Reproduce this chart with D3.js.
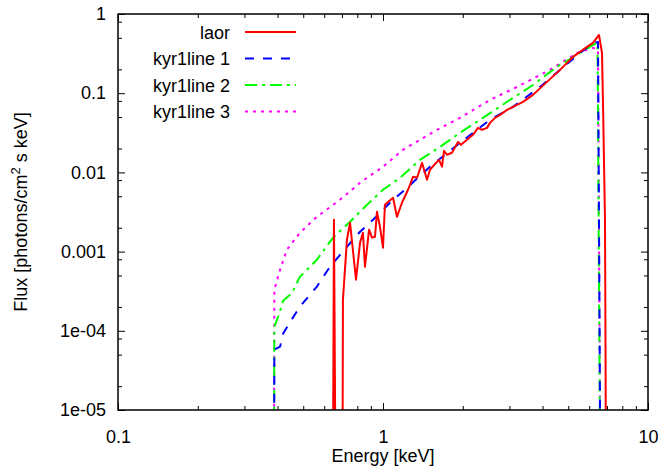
<!DOCTYPE html>
<html>
<head>
<meta charset="utf-8">
<script src="https://cdn.jsdelivr.net/npm/d3@7"></script>
<style>
  body { margin: 0; background: #fff; }
  svg text { font-family: "Liberation Sans", Arial, sans-serif; font-size: 18px; fill: #000; }
</style>
</head>
<body>
<svg id="chart" width="663" height="468"></svg>
<script>
// ── data (energy keV, flux); 0 = no flux (falls off the bottom)
const laor = [
  [0.642, 0], [0.653, 2.52e-3], [0.671, 0], [0.700, 0], [0.706, 2.47e-4],
  [0.731, 1.41e-3], [0.751, 2.31e-3], [0.791, 4.42e-4], [0.819, 1.29e-3], [0.840, 1.73e-3],
  [0.855, 6.45e-4], [0.886, 1.89e-3], [0.909, 1.50e-3], [0.933, 1.54e-3], [0.949, 3.19e-3],
  [0.974, 2.06e-3], [1.000, 1.12e-3], [1.017, 3.90e-3], [1.091, 4.78e-3], [1.129, 2.75e-3],
  [1.179, 4.14e-3], [1.243, 6.03e-3], [1.298, 8.80e-3], [1.344, 8.55e-3], [1.404, 0.0132],
  [1.466, 8.07e-3], [1.504, 0.0108], [1.585, 0.0132], [1.627, 0.0144], [1.670, 0.0118],
  [1.699, 0.0187], [1.744, 0.0167], [1.821, 0.0177], [1.919, 0.0243], [1.969, 0.0223],
  [2.075, 0.0258], [2.186, 0.0298], [2.283, 0.0365], [2.363, 0.0345], [2.469, 0.0365],
  [2.534, 0.0422], [2.647, 0.0488], [2.764, 0.0533], [2.938, 0.0616], [3.094, 0.0672],
  [3.376, 0.0777], [3.681, 0.0952], [4.157, 0.139], [4.656, 0.197], [5.212, 0.287],
  [5.886, 0.384], [6.202, 0.431], [6.533, 0.544], [6.705, 0.322], [6.764, 0.0754],
  [6.882, 2.52e-3], [7.003, 0]
];
const kyr1 = [
  [0.386, 0], [0.389, 5.79e-5], [0.409, 6.32e-5], [0.420, 9.22e-5], [0.450, 1.35e-4],
  [0.486, 2.02e-4], [0.563, 3.61e-4], [0.631, 6.45e-4], [0.731, 1.15e-3], [0.819, 1.78e-3],
  [0.917, 2.52e-3], [1.063, 4.14e-3], [1.232, 6.39e-3], [1.504, 0.0118], [1.952, 0.0236],
  [2.534, 0.0461], [3.094, 0.0672], [3.913, 0.120], [4.656, 0.197], [5.538, 0.322],
  [6.202, 0.431], [6.476, 0.443], [6.69, 0]
];
const kyr2 = [
  [0.386, 0], [0.389, 1.13e-4], [0.405, 1.60e-4], [0.420, 2.40e-4], [0.454, 3.03e-4],
  [0.486, 4.83e-4], [0.563, 7.90e-4], [0.648, 1.50e-3], [0.751, 2.38e-3], [0.870, 3.90e-3],
  [1.000, 6.03e-3], [1.159, 8.55e-3], [1.379, 0.0144], [1.641, 0.0210], [1.952, 0.0316],
  [2.323, 0.0461], [3.014, 0.0823], [3.681, 0.127], [4.535, 0.215], [5.538, 0.322],
  [6.202, 0.407], [6.45, 0.431], [6.69, 0]
];
const kyr3 = [
  [0.386, 0], [0.389, 3.31e-4], [0.409, 5.91e-4], [0.434, 1.06e-3], [0.486, 1.73e-3],
  [0.563, 2.75e-3], [0.688, 4.51e-3], [0.819, 7.39e-3], [1.000, 0.0118], [1.190, 0.0193],
  [1.599, 0.0345], [1.952, 0.0488], [2.534, 0.0823], [3.204, 0.120], [4.266, 0.197],
  [5.397, 0.322], [6.202, 0.373], [6.476, 0.352], [6.69, 0]
];
const seriesNames = ['laor', 'kyr1line 1', 'kyr1line 2', 'kyr1line 3'];
const xTicks = [0.1, 1, 10];
const xTickLabels = ['0.1', '1', '10'];
const yTicks = [1e-5, 1e-4, 1e-3, 0.01, 0.1, 1];
const yTickLabels = ['1e-05', '1e-04', '0.001', '0.01', '0.1', '1'];

const series = [
  { name: seriesNames[0], data: laor, color: '#ff0000', dash: null },
  { name: seriesNames[1], data: kyr1, color: '#0000ff', dash: '9,9' },
  { name: seriesNames[2], data: kyr2, color: '#00ff00', dash: '12,5,3,5' },
  { name: seriesNames[3], data: kyr3, color: '#ff00ff', dash: '3,5' },
];

// ── layout
const M = { left: 118, right: 648, top: 14, bottom: 410 };
const svg = d3.select('#chart');

const x = d3.scaleLog().domain([0.1, 10]).range([M.left, M.right]);
const y = d3.scaleLog().domain([1e-5, 1]).range([M.bottom, M.top]);

// minor ticks: x every 2..9, y at 2, 5, 8 per decade (as in the plot)
const xMinor = [];
for (let d = 0.1; d < 10; d *= 10) for (let k = 2; k <= 9; k++) xMinor.push(+(d * k).toPrecision(3));
const yMinor = [];
for (let d = 1e-5; d < 1; d *= 10) [2, 5, 8].forEach(k => yMinor.push(+(d * k).toPrecision(3)));

const noLbl = () => '';
function tickAxis(axisFn, scale, vals, size, tr, fmt, pad) {
  const g = svg.append('g').attr('transform', tr)
    .call(axisFn(scale).tickValues(vals).tickSize(size).tickPadding(pad || 3).tickFormat(fmt || noLbl));
  g.select('.domain').remove();
  g.selectAll('line').attr('stroke', '#000').attr('stroke-width', 1);
  g.selectAll('text').attr('font-size', 18).attr('font-family', '"Liberation Sans", Arial, sans-serif');
  return g;
}

// bottom / top
tickAxis(d3.axisBottom, x, xMinor, -4, `translate(0,${M.bottom})`);
tickAxis(d3.axisBottom, x, xTicks, -7, `translate(0,${M.bottom})`, (d, i) => xTickLabels[i], 20);
tickAxis(d3.axisTop, x, xMinor, -4, `translate(0,${M.top})`);
tickAxis(d3.axisTop, x, xTicks, -7, `translate(0,${M.top})`);
// left / right
tickAxis(d3.axisLeft, y, yMinor, -4, `translate(${M.left},0)`);
tickAxis(d3.axisLeft, y, yTicks, -7, `translate(${M.left},0)`, (d, i) => yTickLabels[i], 12);
tickAxis(d3.axisRight, y, yMinor, -4, `translate(${M.right},0)`);
tickAxis(d3.axisRight, y, yTicks, -7, `translate(${M.right},0)`);

// clip for the curves
svg.append('defs').append('clipPath').attr('id', 'plot-clip')
  .append('rect').attr('x', M.left).attr('y', M.top)
  .attr('width', M.right - M.left).attr('height', M.bottom - M.top);

const line = d3.line()
  .x(d => x(d[0]))
  .y(d => y(d[1] > 0 ? d[1] : 1e-9));

const curves = svg.append('g').attr('clip-path', 'url(#plot-clip)');
// draw in reverse so laor sits on top
series.slice().reverse().forEach(s => {
  curves.append('path')
    .attr('d', line(s.data))
    .attr('fill', 'none')
    .attr('stroke', s.color)
    .attr('stroke-width', 2)
    .attr('stroke-linejoin', 'round')
    .attr('stroke-dasharray', s.dash);
});

// frame
svg.append('rect')
  .attr('x', M.left).attr('y', M.top)
  .attr('width', M.right - M.left).attr('height', M.bottom - M.top)
  .attr('fill', 'none').attr('stroke', '#000').attr('stroke-width', 1.5);

// legend
const leg = svg.append('g');
series.forEach((s, i) => {
  const ly = 32 + i * 26.5;
  leg.append('text').attr('x', 230).attr('y', ly + 6.5)
    .attr('text-anchor', 'end').text(s.name);
  leg.append('line').attr('x1', 245).attr('x2', 296).attr('y1', ly).attr('y2', ly)
    .attr('stroke', s.color).attr('stroke-width', 2).attr('stroke-dasharray', s.dash);
});

// axis titles
svg.append('text').attr('x', (M.left + M.right) / 2).attr('y', 462)
  .attr('text-anchor', 'middle').text('Energy [keV]');

const yt = svg.append('text')
  .attr('transform', `translate(27,${(M.top + M.bottom) / 2}) rotate(-90)`)
  .attr('text-anchor', 'middle');
yt.append('tspan').text('Flux [photons/cm');
yt.append('tspan').attr('dy', -7).attr('font-size', 13).text('2');
yt.append('tspan').attr('dy', 7).text(' s keV]');
</script>
</body>
</html>
